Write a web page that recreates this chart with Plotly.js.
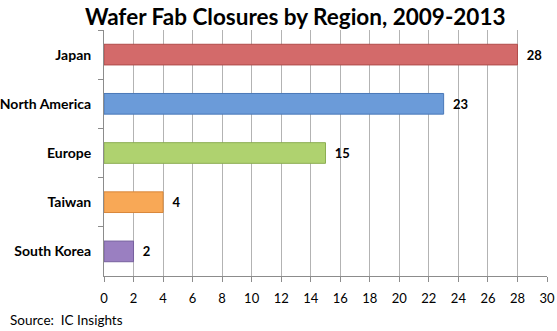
<!DOCTYPE html>
<html><head><meta charset="utf-8">
<script src="https://cdn.plot.ly/plotly-3.0.1.min.js"></script>
<style>body{margin:0;padding:0;background:#fff}#chart{width:557px;height:331px}</style>
</head><body><div id="chart"></div>
<script>
const regions = ["Japan", "North America", "Europe", "Taiwan", "South Korea"];
const closures = [28, 23, 15, 4, 2];
const barColors = ["#d36a6a", "#6b9bd9", "#afd26f", "#f8a856", "#9a7fc1"];
const lineColors = ["#b04c4a", "#4a78b8", "#8cae52", "#d9873a", "#76609e"];
const xTicks = [0,2,4,6,8,10,12,14,16,18,20,22,24,26,28,30];

const trace = {
  type: "bar", orientation: "h",
  y: regions, x: closures,
  marker: {color: barColors, line: {color: lineColors, width: 1}},
  text: closures.map(v => "\u00a0\u00a0" + v), textposition: "outside",
  textfont: {family: "Lato, 'Open Sans', sans-serif", size: 13, color: "#000", weight: "bold"},
  cliponaxis: false, hoverinfo: "none"
};
const layout = {
  width: 557, height: 331,
  margin: {l: 104, r: 10, t: 30, b: 55},
  paper_bgcolor: "#fff", plot_bgcolor: "#fff",
  showlegend: false, bargap: 0.58,
  font: {family: "Lato, 'Open Sans', sans-serif", color: "#000"},
  title: {text: "<b>Wafer Fab Closures by Region, 2009-2013</b>", x: 0.53, xanchor: "center", y: 1 - 17/331, yanchor: "middle",
          font: {family: "Lato, 'Open Sans', sans-serif", size: 22.5, color: "#000"}},
  xaxis: {range: [0, 30], tickvals: xTicks, ticktext: xTicks.map(String),
          showgrid: true, gridcolor: "#b3b3b3", gridwidth: 1,
          showline: true, linecolor: "#8c8c8c", ticks: "outside", ticklen: 5, tickcolor: "#8c8c8c",
          tickfont: {size: 13, color: "#000"}, ticklabelstandoff: 5, zeroline: false, fixedrange: true},
  yaxis: {autorange: "reversed", tickson: "boundaries", ticks: "outside", ticklen: 5, tickcolor: "#8c8c8c",
          showline: true, linecolor: "#8c8c8c", showgrid: false,
          tickfont: {size: 14, color: "#000", weight: "bold"}, ticklabelstandoff: 9, fixedrange: true},
  annotations: [{text: "Source:  IC Insights", xref: "paper", yref: "paper", x: -96/443, y: -44/245,
                 xanchor: "left", yanchor: "middle", showarrow: false,
                 font: {size: 13.5, color: "#000"}}]
};
Plotly.newPlot("chart", [trace], layout, {displayModeBar: false, staticPlot: true});
</script></body></html>
